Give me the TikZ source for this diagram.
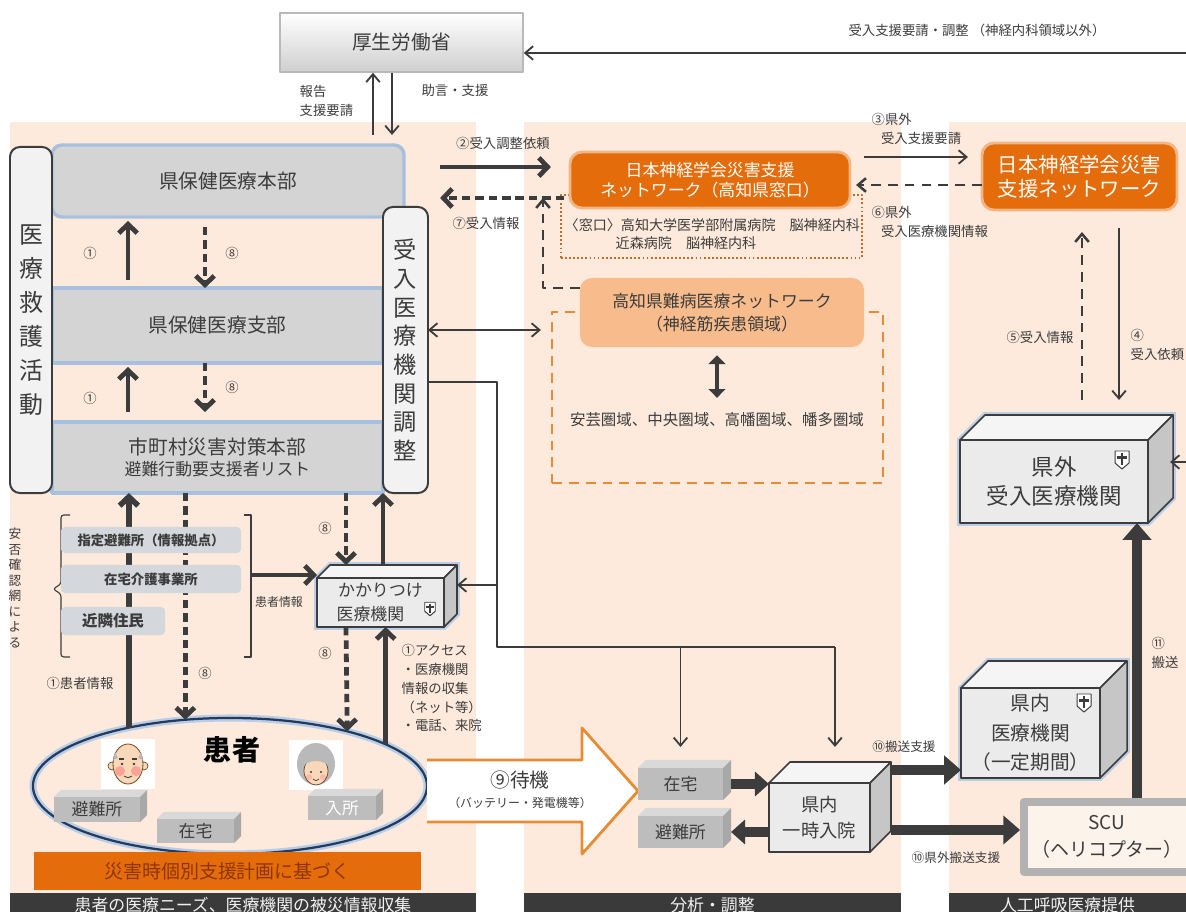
\documentclass[tikz,border=0pt]{standalone}
\usepackage{fontspec}
\setmainfont{Noto Sans CJK JP}
\usetikzlibrary{positioning,arrows.meta,shapes.geometric}

\definecolor{peach}{HTML}{FDEADC}
\definecolor{bandgray}{HTML}{D4D4D4}
\definecolor{bandline}{HTML}{A7C0DF}
\definecolor{ink}{HTML}{3C3C3C}
\definecolor{netorange}{HTML}{E46C0A}
\definecolor{lightorange}{HTML}{F8BC8C}
\definecolor{dashorange}{HTML}{E58C35}
\definecolor{barblack}{HTML}{3A3A3A}
\definecolor{planbrown}{HTML}{8E3505}
\definecolor{pillgray}{HTML}{D4D7DB}
\definecolor{skin}{HTML}{F8D8B8}
\definecolor{glow}{HTML}{B9CDE6}
\definecolor{navy}{HTML}{243B5C}
\definecolor{scufill}{HTML}{FCF3EA}

\pgfdeclarelayer{bg}
\pgfdeclarelayer{halo}
\pgfsetlayers{bg,halo,main}

% top and side faces of a box node drawn as a cube
\newcommand\cubefaces[5][]{%
  \filldraw[#1, fill=#4] (#2.north west) -- ++(#3,-#3) -- ([shift={(#3,-#3)}]#2.north east) -- (#2.north east) -- cycle;
  \filldraw[#1, fill=#5] (#2.north east) -- ([shift={(#3,-#3)}]#2.north east) -- ([shift={(#3,-#3)}]#2.south east) -- (#2.south east) -- cycle;}
% soft blue rim behind a cube
\newcommand\cubehalo[2]{%
  \begin{pgfonlayer}{halo}
    \draw[halo] (#1.south west) -- (#1.north west) -- ++(#2,-#2) -- ([shift={(#2,-#2)}]#1.north east)
      -- ([shift={(#2,-#2)}]#1.south east) -- (#1.south east) -- cycle;
  \end{pgfonlayer}}
% hospital mark
\newcommand\shield[2]{%
  \begin{scope}[shift={#1}, scale=#2]
    \filldraw[fill=white, draw=ink, line width=0.7pt] (-7,-9) -- (7,-9) -- (7,3) -- (0,9) -- (-7,3) -- cycle;
    \draw[ink, line width=1.6pt] (0,-7) -- (0,5) (-5,-2.5) -- (5,-2.5);
  \end{scope}}
% patient faces
\newcommand\oldman[1]{%
  \begin{scope}[shift={#1}]
    \fill[white] (-27,-25) rectangle (27,25);
    \filldraw[fill=skin, draw=brown!60!black, line width=0.5pt] (-16,2) circle (4) (16,2) circle (4);
    \filldraw[fill=skin, draw=brown!60!black, line width=0.6pt] (0,0) ellipse [x radius=15, y radius=20];
    \fill[gray!55] (-15,-4) -- (-13,-12) -- (-10,-6) -- cycle (15,-4) -- (13,-12) -- (10,-6) -- cycle;
    \fill[red!50, opacity=.6] (-8,7) circle (5) (8,7) circle (5);
    \draw[ink, line width=0.8pt] (-9,-5) -- (-4,-5) (4,-5) -- (9,-5);
    \fill[ink] (-6,0) circle (1.3) (6,0) circle (1.3);
    \draw[ink, line width=0.6pt] (-4,12) .. controls (0,14) .. (4,12);
  \end{scope}}
\newcommand\oldwoman[1]{%
  \begin{scope}[shift={#1}]
    \fill[white] (-27,-25) rectangle (27,25);
    \fill[gray!55] (0,-1) ellipse [x radius=19, y radius=21];
    \filldraw[fill=skin, draw=brown!50!black, line width=0.5pt] (0,6) ellipse [x radius=12, y radius=14];
    \fill[gray!55] (-13,2) .. controls (-8,-6) and (8,-6) .. (13,2) -- (13,-12) -- (-13,-12) -- cycle;
    \fill[ink] (-5,7) circle (1.2) (5,7) circle (1.2);
    \fill[red!40, opacity=.5] (-7,12) circle (3) (7,12) circle (3);
    \draw[ink, line width=0.5pt] (-3,14) .. controls (0,16) .. (3,14);
  \end{scope}}

\begin{document}
\begin{tikzpicture}[x=0.025cm, y=-0.025cm, line join=round,
    lbl/.style={font=\fontsize{9.5}{14}\selectfont, text=ink, inner sep=1pt},
    bar/.style={fill=barblack, text=gray!12, minimum height=6mm, inner sep=0, outer sep=0, font=\fontsize{12}{14}\selectfont},
    mhlw/.style={draw=gray!55, line width=1pt, top color=white, bottom color=gray!38, minimum width=60.75mm,
      minimum height=14.75mm, text=ink, font=\fontsize{14}{16}\selectfont},
    band/.style={draw=bandline, line width=2.4pt, fill=bandgray, outer sep=0, text=ink, align=center, font=\fontsize{14}{16.5}\selectfont},
    tallbox/.style={draw=ink, line width=1.4pt, fill=gray!10, rounded corners=2.5mm, outer sep=0, inner sep=0, align=center, text=ink},
    netbox/.style={fill=netorange, draw=netorange!50, line width=2pt, rounded corners=3mm, text=white, align=center, outer sep=0},
    cube/.style={draw=ink, line width=1.1pt, fill=gray!16, outer sep=0, inner sep=0, align=center, text=ink},
    greycube/.style={fill=gray!52, outer sep=0, inner sep=0, text=ink, font=\fontsize{12}{14}\selectfont},
    pill/.style={fill=pillgray, rounded corners=1mm, outer sep=0, inner sep=0, text=ink, font=\bfseries\fontsize{9.5}{12}\selectfont},
    thinarr/.style={draw=ink, line width=1.3pt, -{Straight Barb[length=2mm, width=3.4mm]}},
    dblthin/.style={draw=ink, line width=1.3pt, {Straight Barb[length=2mm, width=3.4mm]}-{Straight Barb[length=2mm, width=3.4mm]}},
    fatarr/.style={draw=ink, line width=3.4pt, -{Straight Barb[length=2.2mm, width=4.6mm]}},
    dasharr/.style={fatarr, dash pattern=on 6pt off 3.5pt},
    thindash/.style={draw=ink, line width=1.8pt, dash pattern=on 7pt off 5pt},
    midarr/.style={draw=ink, line width=6.5pt, -{Triangle[length=3.5mm, width=6mm]}},
    hugearr/.style={draw=ink, line width=7.5pt, -{Triangle[length=4.2mm, width=7mm]}},
    dblfat/.style={draw=ink, line width=3.5pt, {Triangle[length=2.2mm, width=4.2mm]}-{Triangle[length=2.2mm, width=4.2mm]}},
    halo/.style={draw=glow, line width=4pt}
  ]
  \useasboundingbox (0,0) rectangle (1186,912);

  % three column panels
  \begin{pgfonlayer}{bg}
    \fill[peach] (10,122) rectangle (476,893);
    \fill[peach] (524,122) rectangle (901,893);
    \fill[peach] (949,122) rectangle (1186,893);
  \end{pgfonlayer}

  % ministry and links to it
  \node[mhlw] (mhlw) at (401.5,42.5) {厚生労働省};
  \coordinate (rimA) at (1186,53);
  \draw[thinarr] (rimA) -- (rimA -| mhlw.east);
  \node[lbl] (outlbl) at (977,30) {受入支援要請・調整 （神経内科領域以外）};

  % prefecture headquarters chain
  \node[band, minimum width=88mm, minimum height=18mm, rounded corners=2.5mm] (honbu) at (228,181) {県保健医療本部};
  \node[band, minimum width=82.75mm, minimum height=18.75mm] (shibu) at (217.5,325.5) {県保健医療支部};
  \node[band, minimum width=82.75mm, minimum height=17.75mm] (shicho) at (217.5,457.5)
    {市町村災害対策本部\\[-2pt]{\fontsize{12}{14}\selectfont 避難行動要支援者リスト}};
  \node[tallbox, minimum width=10.5mm, minimum height=86.5mm, font=\fontsize{17}{24.2}\selectfont] (kyugo) at (31,320)
    {医\\療\\救\\護\\活\\動};
  \node[tallbox, minimum width=11.25mm, minimum height=71.5mm, font=\fontsize{16.5}{20.4}\selectfont] (ukeire) at (405.5,350)
    {受\\入\\医\\療\\機\\関\\調\\整};

  \coordinate (repX) at (373,0);
  \coordinate (advX) at (392,0);
  \draw[thinarr, shorten <=2.5mm] (honbu.north -| repX) -- (mhlw.south -| repX);
  \draw[thinarr, shorten >=2.5mm] (mhlw.south -| advX) -- (honbu.north -| advX);
  \node[lbl, anchor=west, align=left] (replbl) at (298,101) {報告\\支援要請};
  \node[lbl] (advlbl) at (455,90) {助言・支援};

  \coordinate (upX) at (128,0);
  \coordinate (dnX) at (205,0);
  \draw[fatarr, shorten <=2mm, shorten >=1mm] (shibu.north -| upX) -- (honbu.south -| upX);
  \draw[dasharr, shorten <=2.5mm] (honbu.south -| dnX) -- (shibu.north -| dnX);
  \draw[fatarr, shorten <=2.5mm, shorten >=1mm] (shicho.north -| upX) -- (shibu.south -| upX);
  \draw[dasharr, shorten >=2.5mm] (shibu.south -| dnX) -- (shicho.north -| dnX);
  \node[lbl] (n1a) at (90,253) {①};
  \node[lbl] (n8a) at (232,253) {⑧};
  \node[lbl] (n1b) at (90,398) {①};
  \node[lbl] (n8b) at (232,387) {⑧};

  % neurology network
  \node[draw=dashorange!80!black, line width=1.5pt, dash pattern=on 1.3pt off 1.6pt, minimum width=75.25mm,
    minimum height=15.75mm, outer sep=0] (madobox) at (711.5,226.5) {};
  \node[netbox, minimum width=70mm, minimum height=14mm, font=\fontsize{12}{14.2}\selectfont] (nw1) at (710,180)
    {日本神経学会災害支援\\ネットワーク（高知県窓口）};
  \node[lbl, anchor=west, font=\fontsize{10}{12}\selectfont] (mado1) at (563,225) {〈窓口〉高知大学医学部附属病院　脳神経内科};
  \node[lbl, anchor=west, font=\fontsize{10}{12}\selectfont] (mado2) at (614,243) {近森病院　脳神経内科};
  \node[netbox, minimum width=48.75mm, minimum height=16.75mm, font=\fontsize{14.5}{17}\selectfont] (nw2) at (1079.5,176.5)
    {日本神経学会災害\\支援ネットワーク};

  \node[draw=dashorange, line width=1.8pt, dash pattern=on 7pt off 5pt, minimum width=82.75mm, minimum height=42.75mm,
    outer sep=0] (areabox) at (717.5,397.5) {};
  \node[fill=lightorange, rounded corners=3mm, minimum width=71mm, minimum height=17.25mm, align=center, text=ink,
    font=\fontsize{12}{16.4}\selectfont] (nanbyo) at (722,312.5) {高知県難病医療ネットワーク\\（神経筋疾患領域）};
  \node[font=\fontsize{11}{13}\selectfont, text=ink] (areas) at (717,420) {安芸圏域、中央圏域、高幡圏域、幡多圏域};
  \draw[dblfat, shorten <=2mm, shorten >=2.5mm] (nanbyo.south -| areas.north) -- (areas.north);

  \coordinate (req2) at (0,167);
  \coordinate (inf7) at (0,198);
  \draw[fatarr, shorten <=9mm, shorten >=4.75mm] (honbu.east |- req2) -- (nw1.west |- req2);
  \draw[dasharr, shorten <=1.5mm, shorten >=9mm] (nw1.west |- inf7) -- (honbu.east |- inf7);
  \node[lbl] (lbl2) at (503,143) {②受入調整依頼};
  \node[lbl] (lbl7) at (486,223) {⑦受入情報};
  \coordinate (j7) at (543,288);
  \draw[thindash, -{Straight Barb[length=2mm, width=3.4mm]}] (nanbyo.west |- j7) -- (j7) -- (j7 |- inf7);

  \coordinate (req3) at (0,157);
  \coordinate (inf6) at (0,185);
  \draw[thinarr, shorten <=3.5mm, shorten >=3.5mm] (nw1.east |- req3) -- (nw2.west |- req3);
  \draw[thindash, -{Straight Barb[length=2mm, width=3.4mm]}, shorten >=1.5mm] (nw2.west |- inf6) -- (nw1.east |- inf6);
  \node[lbl, anchor=west, align=left] (lbl3) at (870,129) {③県外\\\hspace*{0.7em}受入支援要請};
  \node[lbl, anchor=west, align=left] (lbl6) at (870,222) {⑥県外\\\hspace*{0.7em}受入医療機関情報};

  \coordinate (dblY) at (0,330);
  \draw[dblthin, shorten >=2.75mm] (ukeire.east |- dblY) -- (areabox.west |- dblY);

  % family doctor and community sources
  \node[cube, minimum width=31.75mm, minimum height=12.25mm, font=\fontsize{12}{17}\selectfont] (kaki) at (380.5,602.5)
    {かかりつけ\\医療機関\hspace*{1.2em}};
  \cubefaces[draw=ink, line width=1.1pt]{kaki}{13}{gray!8}{gray!45}
  \cubehalo{kaki}{13}
  \shield{(430,609)}{0.75}

  % patients
  \node[ellipse, draw=navy, line width=1.6pt, minimum width=98.5mm, minimum height=34mm, outer sep=0] (kanja) at (230,786) {};
  \begin{pgfonlayer}{halo}
    \draw[glow, line width=5pt] (230,786) ellipse [x radius=197, y radius=68];
  \end{pgfonlayer}

  \draw[fatarr, line width=4pt] (kanja.150) -- (kanja.150 |- shicho.south);
  \draw[dasharr] (kanja.124 |- shicho.south) -- (kanja.124);
  \node[lbl] (lbl1p) at (80,683) {①患者情報};
  \node[lbl] (n8c) at (205,673) {⑧};

  \draw[ink, line width=0.8pt, rounded corners=2pt] (70,515) -- (61,515) -- (61,584) -- (53,589) -- (61,594) -- (61,657) -- (70,657);
  \draw[ink, line width=0.8pt] (244,515) -- (251,515) -- (251,657) -- (244,657);
  \node[font=\fontsize{9}{11}\selectfont, text=ink, align=center, inner sep=0] (anpi) at (15,588) {安\\否\\確\\認\\網\\に\\よ\\る};
  \node[pill, minimum width=45mm, minimum height=6.5mm] (shitei) at (151,540) {指定避難所（情報拠点）};
  \node[pill, minimum width=45mm, minimum height=7mm] (kaigo) at (151,579) {在宅介護事業所};
  \node[pill, minimum width=26mm, minimum height=7mm, font=\bfseries\fontsize{11}{13}\selectfont] (kinrin) at (113,621) {近隣住民};

  \coordinate (brk) at (251,575);
  \draw[fatarr] (brk) -- (brk -| kaki.west);
  \node[lbl, font=\fontsize{8.5}{10}\selectfont] (lblinfo) at (279,602) {患者情報};

  \coordinate (kdX) at (346,0);
  \coordinate (kuX) at (383,0);
  \draw[dasharr, shorten >=3.25mm] (shicho.south -| kdX) -- (kaki.north -| kdX);
  \draw[fatarr, shorten <=3.5mm] (kaki.north -| kuX) -- (ukeire.south -| kuX);
  \draw[dasharr] (kaki.south -| kdX) -- (kanja.25);
  \draw[fatarr] (kanja.15) -- (kanja.15 |- kaki.south);
  \node[lbl] (n8d) at (325,528) {⑧};
  \node[lbl] (n8e) at (325,653) {⑧};
  \node[lbl, anchor=north west, align=left, font=\fontsize{9.5}{13.3}\selectfont] (access) at (400,643)
    {①アクセス\\・医療機関\\情報の収集\\（ネット等）\\・電話、来院};

  \oldman{(128,764)}
  \oldwoman{(316,765)}
  \node[font=\bfseries\fontsize{20}{24}\selectfont, text=black] (kanjalbl) at (232,750) {患者};
  \node[greycube, minimum width=21.5mm, minimum height=6.25mm] (shel1) at (97,809.5) {避難所};
  \cubefaces[draw=none]{shel1}{7}{gray!30}{gray!68}
  \node[greycube, minimum width=19.25mm, minimum height=6mm] (home1) at (195.5,831) {在宅};
  \cubefaces[draw=none]{home1}{7}{gray!30}{gray!68}
  \node[greycube, minimum width=17mm, minimum height=6mm, text=white] (inst1) at (342,808) {入所};
  \cubefaces[draw=none]{inst1}{7}{gray!30}{gray!68}
  \node[fill=netorange, minimum width=96.75mm, minimum height=9.5mm, inner sep=0, text=planbrown,
    font=\fontsize{13.5}{16}\selectfont] (plan) at (227.5,871) {災害時個別支援計画に基づく};

  % standby arrow
  \fill[white] (427,760) -- (582,760) -- (582,728) -- (638,791) -- (582,854) -- (582,822) -- (427,822) -- cycle;
  \draw[dashorange, line width=2pt] (427,760) -- (582,760) -- (582,728) -- (638,791) -- (582,854) -- (582,822) -- (427,822);
  \node[font=\fontsize{14}{16}\selectfont, text=ink] (wait) at (520,780) {⑨待機};
  \node[font=\fontsize{8.5}{10}\selectfont, text=ink] (waitnote) at (520,803) {（バッテリー・発電機等）};

  % in-prefecture admission
  \node[greycube, minimum width=21.25mm, minimum height=8mm] (home2) at (680.5,784) {在宅};
  \cubefaces[draw=none]{home2}{8}{gray!30}{gray!68}
  \node[greycube, minimum width=21.25mm, minimum height=8mm] (shel2) at (680.5,832) {避難所};
  \cubefaces[draw=none]{shel2}{8}{gray!30}{gray!68}
  \node[cube, minimum width=25.25mm, minimum height=17.25mm, font=\fontsize{13}{18}\selectfont] (ichiji) at (819.5,817.5)
    {県内\\一時入院};
  \cubefaces[draw=ink, line width=1.1pt]{ichiji}{21}{gray!8}{gray!45}
  \draw[midarr, shorten <=2mm] (home2.east) -- (home2.east -| ichiji.west);
  \draw[midarr, shorten >=2mm] (ichiji.west |- shel2.east) -- (shel2.east);

  \coordinate (r1) at (497,382);
  \coordinate (r2) at (497,647);
  \coordinate (r3) at (835,647);
  \coordinate (r4) at (497,585);
  \draw[ink, line width=1.3pt] (ukeire.east |- r1) -- (r1) -- (r2) -- (r3);
  \draw[thinarr, shorten >=9mm] (r3) -- (r3 |- ichiji.north);
  \draw[thinarr, shorten >=5.25mm] (r2 -| home2.north) -- (home2.north);
  \draw[thinarr, shorten >=3.25mm] (r4) -- (r4 -| kaki.east);

  % hospitals and transport
  \node[cube, minimum width=34.75mm, minimum height=22.5mm, font=\fontsize{14}{21}\selectfont] (kennai) at (1030.5,733)
    {県内\\医療機関\\（一定期間）};
  \cubefaces[draw=ink, line width=1.1pt]{kennai}{27}{gray!8}{gray!45}
  \cubehalo{kennai}{27}
  \shield{(1084,703)}{1}
  \node[cube, minimum width=47mm, minimum height=20.75mm, font=\fontsize{16}{20}\selectfont] (kengai) at (1054,481.5)
    {県外\\受入医療機関};
  \cubefaces[draw=ink, line width=1.1pt]{kengai}{25}{gray!8}{gray!45}
  \cubehalo{kengai}{25}
  \shield{(1122,460)}{1}
  \node[draw=gray!60, line width=5.5pt, fill=scufill, minimum width=41.5mm, minimum height=17.5mm, align=center, text=ink,
    font=\fontsize{13.5}{19}\selectfont] (scu) at (1107,837) {SCU\\（ヘリコプター）};

  \coordinate (t10a) at (0,770);
  \coordinate (t10b) at (0,830);
  \draw[hugearr, shorten <=5.25mm] (ichiji.east |- t10a) -- (kennai.west |- t10a);
  \draw[hugearr, shorten <=5.25mm] (ichiji.east |- t10b) -- (scu.west |- t10b);
  \node[lbl, font=\fontsize{9}{11}\selectfont] (lbl10a) at (904,747) {⑩搬送支援};
  \node[lbl, font=\fontsize{9}{11}\selectfont] (lbl10b) at (956,858) {⑩県外搬送支援};

  \coordinate (t11) at (1137,0);
  \draw[hugearr, line width=7pt] (scu.north -| t11) -- (kengai.south -| t11);
  \node[lbl, anchor=west, align=left] (lbl11) at (1150,653) {⑪\\搬送};

  \coordinate (t4) at (1119,0);
  \coordinate (t5) at (1082,0);
  \draw[thinarr, shorten <=4.5mm, shorten >=10mm] (nw2.south -| t4) -- (kengai.north -| t4);
  \draw[thindash, -{Straight Barb[length=2mm, width=3.4mm]}, shorten <=10mm, shorten >=5.5mm] (kengai.north -| t5) -- (nw2.south -| t5);
  \node[lbl] (lbl5) at (1040,337) {⑤受入情報};
  \node[lbl, anchor=west, align=left] (lbl4) at (1129,345) {④\\受入依頼};

  \coordinate (rimB) at (1186,462);
  \draw[thinarr, shorten >=5.5mm] (rimB) -- (rimB -| kengai.east);

  % stage captions
  \node[bar, minimum width=116.5mm] (bar1) at (243,905) {患者の医療ニーズ、医療機関の被災情報収集};
  \node[bar, minimum width=94.25mm] (bar2) at (712.5,905) {分析・調整};
  \node[bar, minimum width=59.25mm] (bar3) at (1067.5,905) {人工呼吸医療提供};
\end{tikzpicture}
\end{document}
